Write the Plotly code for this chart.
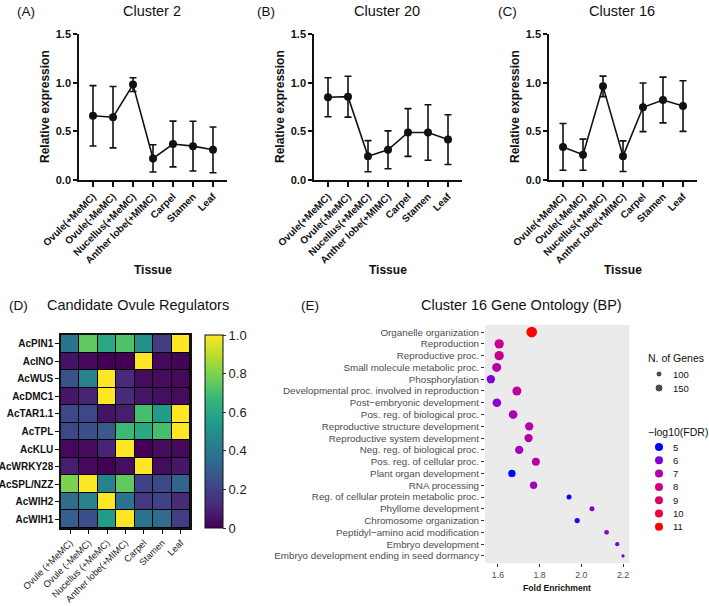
import plotly.graph_objects as go

W, H = 709, 606

# ---------------- data ----------------
tissues = ["Ovule(+MeMC)", "Ovule(-MeMC)", "Nucellus(+MeMC)", "Anther lobe(+MIMC)",
           "Carpel", "Stamen", "Leaf"]
c2_mean = [0.66, 0.645, 0.98, 0.222, 0.37, 0.348, 0.31]
c2_err = [0.31, 0.315, 0.07, 0.14, 0.235, 0.255, 0.235]
c20_mean = [0.85, 0.856, 0.245, 0.31, 0.488, 0.488, 0.415]
c20_err = [0.2, 0.21, 0.16, 0.195, 0.245, 0.285, 0.255]
c16_mean = [0.34, 0.26, 0.962, 0.245, 0.747, 0.822, 0.76]
c16_err = [0.24, 0.16, 0.105, 0.157, 0.25, 0.235, 0.26]
y_ticks = [0.0, 0.5, 1.0, 1.5]

heat_tissues = ["Ovule (+MeMC)", "Ovule (-MeMC)", "Nucellus (+MeMC)", "Anther lobe(+MIMC)",
                "Carpel", "Stamen", "Leaf"]
genes = ["AcPIN1", "AcINO", "AcWUS", "AcDMC1", "AcTAR1.1", "AcTPL", "AcKLU",
         "AcWRKY28", "AcSPL/NZZ", "AcWIH2", "AcWIH1"]
heat_values = [
    [0.38, 0.75, 0.60, 0.72, 0.50, 0.18, 1.00],
    [0.05, 0.02, 0.00, 0.00, 1.00, 0.02, 0.01],
    [0.25, 0.45, 1.00, 0.12, 0.03, 0.03, 0.02],
    [0.06, 0.10, 1.00, 0.12, 0.06, 0.04, 0.03],
    [0.22, 0.22, 0.05, 0.08, 0.70, 0.55, 1.00],
    [0.22, 0.24, 0.28, 0.68, 0.60, 0.70, 1.00],
    [0.02, 0.03, 0.10, 1.00, 0.00, 0.03, 0.02],
    [0.08, 0.02, 0.00, 0.04, 1.00, 0.03, 0.06],
    [0.80, 1.00, 0.45, 0.75, 0.20, 0.22, 0.32],
    [0.35, 0.45, 1.00, 0.38, 0.17, 0.20, 0.12],
    [0.30, 0.24, 0.55, 1.00, 0.38, 0.35, 0.18],
]
cbar_ticks = [0, 0.2, 0.4, 0.6, 0.8, 1.0]
cbar_text = ["0", "0.2", "0.4", "0.6", "0.8", "1.0"]

go_terms = ["Organelle organization", "Reproduction", "Reproductive proc.",
            "Small molecule metabolic proc.", "Phosphorylation",
            "Developmental proc. involved in reproduction", "Post\u2212embryonic development",
            "Pos. reg. of biological proc.", "Reproductive structure development",
            "Reproductive system development", "Neg. reg. of biological proc.",
            "Pos. reg. of cellular proc.", "Plant organ development", "RNA processing",
            "Reg. of cellular protein metabolic proc.", "Phyllome development",
            "Chromosome organization", "Peptidyl\u2212amino acid modification",
            "Embryo development", "Embryo development ending in seed dormancy"]
fold_enrich = [1.762, 1.606, 1.606, 1.594, 1.566, 1.691, 1.595, 1.673, 1.750, 1.747,
               1.702, 1.782, 1.667, 1.771, 1.941, 2.051, 1.980, 2.121, 2.172, 2.200]
n_genes = [218, 183, 183, 175, 158, 175, 167, 167, 158, 158,
           158, 150, 133, 133, 75, 75, 80, 70, 55, 30]
neglog_fdr = [11.0, 7.8, 7.8, 7.3, 6.0, 7.5, 6.2, 7.0, 7.2, 7.2,
              6.7, 7.2, 5.0, 6.8, 5.0, 6.0, 5.2, 6.5, 5.8, 5.8]
fe_ticks = [1.6, 1.8, 2.0, 2.2]
size_legend = [100, 150]
fdr_legend = [5, 6, 7, 8, 9, 10, 11]

# ---------------- helpers ----------------
def px(x):
    return x / W

def py(y):
    return 1 - y / H

def size_px(n):
    return 6 + (n - 100) * 0.04

# blue -> red gradient interpolated in CIE Lab (ggplot style)
def _lin(c):
    c = c / 255.0
    return c / 12.92 if c <= 0.04045 else ((c + 0.055) / 1.055) ** 2.4

def _gam(c):
    c = 12.92 * c if c <= 0.0031308 else 1.055 * c ** (1 / 2.4) - 0.055
    return max(0, min(255, round(c * 255)))

def rgb2lab(rgb):
    r, g, b = [_lin(v) for v in rgb]
    X = 0.4124 * r + 0.3576 * g + 0.1805 * b
    Y = 0.2126 * r + 0.7152 * g + 0.0722 * b
    Z = 0.0193 * r + 0.1192 * g + 0.9505 * b
    X, Y, Z = X / 0.95047, Y / 1.0, Z / 1.08883
    f = lambda t: t ** (1 / 3) if t > 0.008856 else 7.787 * t + 16 / 116
    fx, fy, fz = f(X), f(Y), f(Z)
    return (116 * fy - 16, 500 * (fx - fy), 200 * (fy - fz))

def lab2rgb(lab):
    L, a, b = lab
    fy = (L + 16) / 116
    fx = fy + a / 500
    fz = fy - b / 200
    fi = lambda t: t ** 3 if t ** 3 > 0.008856 else (t - 16 / 116) / 7.787
    X, Y, Z = fi(fx) * 0.95047, fi(fy), fi(fz) * 1.08883
    r = 3.2406 * X - 1.5372 * Y - 0.4986 * Z
    g = -0.9689 * X + 1.8758 * Y + 0.0415 * Z
    bb = 0.0557 * X - 0.2040 * Y + 1.0570 * Z
    return "rgb(%d,%d,%d)" % (_gam(max(0, r)), _gam(max(0, g)), _gam(max(0, bb)))

lab_lo, lab_hi = rgb2lab((0, 0, 255)), rgb2lab((255, 0, 0))
fdr_scale = []
for i in range(11):
    t = i / 10
    fdr_scale.append([t, lab2rgb(tuple(lab_lo[k] + (lab_hi[k] - lab_lo[k]) * t for k in range(3)))])

FONT = "Liberation Sans, Arial, sans-serif"
BLACK = "#111111"

def label(text, x, y, size, bold=False, xanchor="center", angle=0, color=BLACK):
    d = dict(text=text, x=px(x), y=py(y), xref="paper", yref="paper", showarrow=False,
             xanchor=xanchor, yanchor="middle", textangle=angle,
             font=dict(family=FONT, size=size, color=color,
                       weight="bold" if bold else "normal"))
    return d

fig = go.Figure()

# ---------------- panels A-C ----------------
line_panels = [
    ("", c2_mean, c2_err, 79, 227),
    ("2", c20_mean, c20_err, 314, 462),
    ("3", c16_mean, c16_err, 549, 697),
]
for ax, mean, err, x0, x1 in line_panels:
    fig.add_trace(go.Scatter(
        x=tissues, y=mean, mode="lines+markers",
        xaxis="x" + ax, yaxis="y" + ax,
        line=dict(color=BLACK, width=1.6),
        marker=dict(color=BLACK, size=8),
        error_y=dict(type="data", array=err, visible=True, color=BLACK,
                     thickness=1.6, width=3.5),
        showlegend=False, cliponaxis=False))
    fig.layout["xaxis" + ax] = dict(
        domain=[px(x0), px(x1)], anchor="y" + ax, range=[-0.7, 6.7],
        type="category", categoryorder="array", categoryarray=tissues,
        tickmode="array", tickvals=tissues, ticktext=tissues,
        showline=True, linecolor=BLACK, linewidth=1.6, showgrid=False, zeroline=False,
        ticks="outside", ticklen=5, tickwidth=1.6, tickcolor=BLACK, tickangle=-45,
        tickfont=dict(family=FONT, size=10, color=BLACK, weight="bold"), automargin=False)
    fig.layout["yaxis" + ax] = dict(
        domain=[py(180), py(34)], anchor="x" + ax, range=[0, 1.5],
        tickvals=y_ticks, tickformat=".1f",
        showline=True, linecolor=BLACK, linewidth=1.6, showgrid=False, zeroline=False,
        ticks="outside", ticklen=4, tickwidth=1.6, tickcolor=BLACK,
        tickfont=dict(family=FONT, size=11, color=BLACK, weight="bold"), automargin=False)

ann = []
for lab, title, lx, cx in [("(A)", "Cluster 2", 26, 152), ("(B)", "Cluster 20", 266, 387),
                            ("(C)", "Cluster 16", 507, 622)]:
    ann.append(label(lab, lx, 11, 13.5))
    ann.append(label(title, cx, 11, 14.5))
for x0, x1 in [(79, 227), (314, 462), (549, 697)]:
    ann.append(label("Tissue", (x0 + x1) / 2, 270, 12, bold=True))
    ann.append(label("Relative expression", x0 - 34, 107, 12, bold=True, angle=-90))

# ---------------- panel D heatmap ----------------
fig.add_trace(go.Heatmap(
    z=heat_values, x=heat_tissues, y=genes, xaxis="x4", yaxis="y4",
    colorscale="Viridis", zmin=0, zmax=1, xgap=1, ygap=1,
    colorbar=dict(x=px(205), xanchor="left", y=py(431.5), yanchor="middle",
                  thickness=18, thicknessmode="pixels", len=193, lenmode="pixels",
                  xpad=0, ypad=0, outlinecolor=BLACK, outlinewidth=1,
                  tickvals=cbar_ticks, ticktext=cbar_text, ticks="outside", ticklen=3,
                  tickcolor="#333", tickfont=dict(family=FONT, size=13, color="#222")),
    showscale=True))
fig.layout.xaxis4 = dict(
    domain=[px(61), px(190)], anchor="y4", type="category",
    tickmode="array", tickvals=heat_tissues, ticktext=heat_tissues,
    showline=True, mirror=True, linecolor=BLACK, linewidth=1.5, showgrid=False, zeroline=False,
    ticks="outside", ticklen=4, tickwidth=1, tickcolor=BLACK, tickangle=-45,
    tickfont=dict(family=FONT, size=9.3, color="#222"), automargin=False)
fig.layout.yaxis4 = dict(
    domain=[py(528), py(335)], anchor="x4", type="category", autorange="reversed",
    tickmode="array", tickvals=genes, ticktext=genes,
    showline=True, mirror=True, linecolor=BLACK, linewidth=1.5, showgrid=False, zeroline=False,
    ticks="outside", ticklen=4, tickwidth=1, tickcolor=BLACK,
    tickfont=dict(family=FONT, size=10, color=BLACK, weight="bold"), automargin=False)
ann.append(label("(D)", 18, 305, 13.5))
ann.append(label("Candidate Ovule Regulators", 138, 305, 14.5))

# ---------------- panel E dot plot ----------------
fig.add_trace(go.Scatter(
    x=fold_enrich, y=go_terms, mode="markers", xaxis="x5", yaxis="y5",
    marker=dict(size=[size_px(n) for n in n_genes], color=neglog_fdr, colorscale=fdr_scale,
                cmin=min(fdr_legend), cmax=max(fdr_legend), line=dict(width=0), opacity=1),
    showlegend=False))
fig.layout.xaxis5 = dict(
    domain=[px(485), px(629.3)], anchor="y5", range=[1.538, 2.23],
    tickvals=fe_ticks, tickformat=".1f", showgrid=False, zeroline=False, showline=False,
    ticks="outside", ticklen=3, tickwidth=1.2, tickcolor="#333",
    tickfont=dict(family=FONT, size=8.8, color="#4D4D4D"), automargin=False)
fig.layout.yaxis5 = dict(
    domain=[py(563), py(325)], anchor="x5", type="category", categoryorder="array",
    categoryarray=go_terms, range=[len(go_terms) - 0.4, -0.6],
    tickmode="array", tickvals=go_terms, ticktext=go_terms,
    showgrid=False, zeroline=False, showline=False,
    ticks="outside", ticklen=3, tickwidth=1.2, tickcolor="#333",
    tickfont=dict(family=FONT, size=9.8, color="#4D4D4D"), automargin=False)
ann.append(label("(E)", 310, 305, 13.5))
ann.append(label("Cluster 16 Gene Ontology (BP)", 521, 305, 14.5))
ann.append(label("Fold Enrichment", 557, 588, 8.6, bold=True))

# ---------------- panel E legends (hidden axis, pixel-like units) ----------------
size_keys_y = [374 + 14 * i for i in range(len(size_legend))]
fdr_keys_y = [447 + 13.3 * i for i in range(len(fdr_legend))]
fig.add_trace(go.Scatter(
    x=[659] * len(size_legend), y=size_keys_y, mode="markers", xaxis="x6", yaxis="y6",
    marker=dict(size=[size_px(n) for n in size_legend], color="black"),
    showlegend=False, hoverinfo="skip", cliponaxis=False))
fig.add_trace(go.Scatter(
    x=[659] * len(fdr_legend), y=fdr_keys_y, mode="markers", xaxis="x6", yaxis="y6",
    marker=dict(size=8, color=fdr_legend, colorscale=fdr_scale, cmin=min(fdr_legend),
                cmax=max(fdr_legend)),
    showlegend=False, hoverinfo="skip", cliponaxis=False))
fig.layout.xaxis6 = dict(domain=[px(640), 1.0], anchor="y6", range=[640, 709], visible=False)
fig.layout.yaxis6 = dict(domain=[py(550), py(345)], anchor="x6", range=[550, 345], visible=False)
ann.append(label("N. of Genes", 646, 358, 10.5, xanchor="left"))
for v, yy in zip(size_legend, size_keys_y):
    ann.append(label(str(v), 671, yy, 9.5, xanchor="left"))
ann.append(label("\u2212log10(FDR)", 646, 432, 10.5, xanchor="left"))
for v, yy in zip(fdr_legend, fdr_keys_y):
    ann.append(label(str(v), 671, yy, 9.5, xanchor="left"))

shapes = [
    dict(type="rect", xref="x5 domain", yref="y5 domain", x0=0, x1=1, y0=0, y1=1,
         fillcolor="#EBEBEB", line=dict(width=0), layer="below"),
    dict(type="rect", xref="x4 domain", yref="y4 domain", x0=0, x1=1, y0=0, y1=1,
         fillcolor="#000000", line=dict(width=0), layer="below"),
]

fig.update_layout(
    width=W, height=H, margin=dict(l=0, r=0, t=0, b=0),
    paper_bgcolor="white", plot_bgcolor="white",
    annotations=ann, shapes=shapes, showlegend=False,
    font=dict(family=FONT, color=BLACK))

fig.write_html("out.html")
